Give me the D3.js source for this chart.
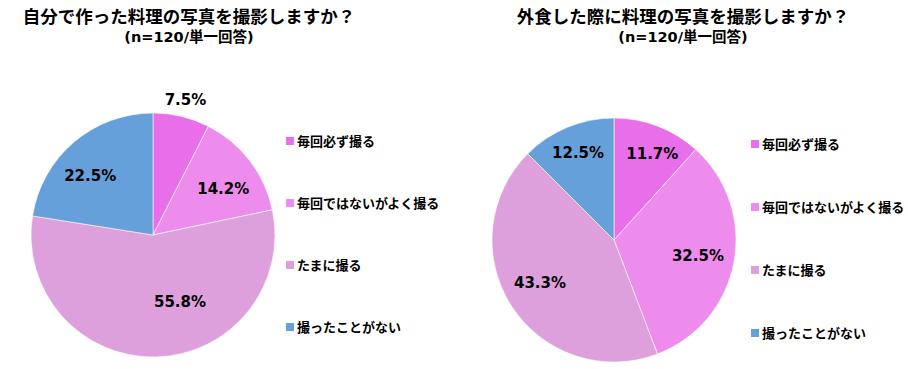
<!DOCTYPE html>
<html>
<head>
<meta charset="utf-8">
<script src="https://cdn.jsdelivr.net/npm/d3@7"></script>
<style>
  body { margin: 0; background: #fff; }
  text { font-family: "Noto Sans CJK JP", "Noto Sans", sans-serif; font-weight: bold; fill: #000; }
  .pct { font-family: "DejaVu Sans", Verdana, sans-serif; font-size: 15px; }
  .sub { font-family: "DejaVu Sans", "Noto Sans CJK JP", sans-serif; font-size: 14.5px; }
</style>
</head>
<body>
<div class="chart"></div>
<script>
const categories = ["毎回必ず撮る", "毎回ではないがよく撮る", "たまに撮る", "撮ったことがない"];
const homeValues = [7.5, 14.2, 55.8, 22.5];
const eatOutValues = [11.7, 32.5, 43.3, 12.5];
const titles = ["自分で作った料理の写真を撮影しますか？", "外食した際に料理の写真を撮影しますか？"];
const subtitle = "(n=120/単一回答)";
const colors = ["#e96ee9", "#ee8cee", "#dda0dd", "#66a0da"];

const width = 908, height = 369;
const svg = d3.select(".chart").append("svg")
    .attr("width", width)
    .attr("height", height);

const color = d3.scaleOrdinal().domain(categories).range(colors);
const radius = 122;

// layout for each panel; label radius/turn mimic Excel's best-fit placement
const panels = [
    { values: homeValues, cx: 153, cy: 235, titleX: 189, legendX: 286, legendY: 141, legendStep: 62,
      labelR: [radius + 17, 0.69, 0.59, 0.71], turn: [0, 4, -20.6, -6] },
    { values: eatOutValues, cx: 614, cy: 240, titleX: 683, legendX: 751, legendY: 144, legendStep: 63,
      labelR: [0.77, 0.7, 0.7, 0.77], turn: [3, 0, 3, 0] }
];

const pie = d3.pie().sort(null).value(d => d);
const arc = d3.arc().innerRadius(0).outerRadius(radius);

function labelPos(p, d, i) {
    const a = (d.startAngle + d.endAngle) / 2 + p.turn[i] * Math.PI / 180;
    const r = p.labelR[i] > 1 ? p.labelR[i] : p.labelR[i] * radius;
    return [Math.sin(a) * r, -Math.cos(a) * r];
}

panels.forEach((p, pi) => {
    svg.append("text")
        .attr("x", p.titleX).attr("y", 23)
        .attr("text-anchor", "middle")
        .style("font-size", "17.5px")
        .text(titles[pi]);
    svg.append("text")
        .attr("class", "sub")
        .attr("x", p.titleX).attr("y", 42)
        .attr("text-anchor", "middle")
        .text(subtitle);

    const g = svg.append("g").attr("transform", `translate(${p.cx},${p.cy})`);
    const arcs = pie(p.values);

    g.selectAll("path")
        .data(arcs)
        .join("path")
        .attr("d", arc)
        .attr("fill", (d, i) => color(categories[i]))
        .attr("stroke", "#fff")
        .attr("stroke-width", 0.6);

    g.selectAll("text")
        .data(arcs)
        .join("text")
        .attr("class", "pct")
        .attr("text-anchor", "middle")
        .attr("dy", "0.35em")
        .attr("x", (d, i) => labelPos(p, d, i)[0])
        .attr("y", (d, i) => labelPos(p, d, i)[1])
        .text(d => d.data.toFixed(1) + "%");

    const legend = svg.append("g")
        .attr("transform", `translate(${p.legendX},${p.legendY})`);
    const item = legend.selectAll("g")
        .data(categories)
        .join("g")
        .attr("transform", (d, i) => `translate(0,${i * p.legendStep})`);
    item.append("rect")
        .attr("x", 0).attr("y", -4)
        .attr("width", 8).attr("height", 8)
        .attr("fill", d => color(d));
    item.append("text")
        .attr("x", 11).attr("y", 0)
        .attr("dy", "0.35em")
        .style("font-size", "13px")
        .text(d => d);
});
</script>
</body>
</html>
